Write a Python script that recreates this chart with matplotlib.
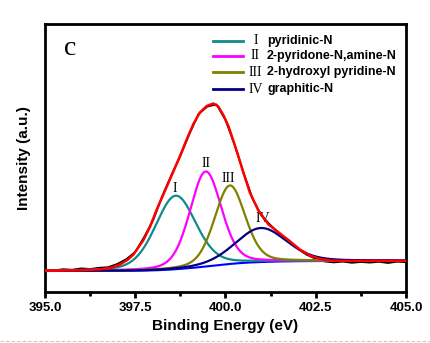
import numpy as np
import matplotlib
matplotlib.use("Agg")
import matplotlib.pyplot as plt
from matplotlib.lines import Line2D

plt.rcParams['font.family'] = ['Liberation Sans', 'DejaVu Sans']

# Energia de ligacao (eV), passo de 0.25
energia = np.arange(395.0, 405.01, 0.25)

# Espectro medido (pontos pretos)
medido = [22.0, 21.5, 22.8, 22.2, 23.6, 23.0, 24.2, 24.8, 28.0, 32.8,
          40.0, 55.2, 72.2, 96.0, 116.8, 136.2, 158.0, 177.8, 185.5, 187.6,
          172.0, 147.5, 119.2, 93.4, 76.2, 66.8, 58.0, 51.8, 43.2, 37.2,
          33.2, 30.5, 29.6, 30.4, 29.2, 30.0, 29.4, 30.2, 29.0, 30.3, 29.8]

# Envelope ajustado (linha vermelha)
ajuste_e = [395.0, 395.5, 396.0, 396.5, 396.8, 397.08, 397.3, 397.45, 397.72, 397.91,
            398.09, 398.32, 398.55, 398.74, 398.93, 399.11, 399.29, 399.48, 399.66, 399.80,
            399.94, 400.08, 400.22, 400.35, 400.49, 400.68, 400.91, 401.19, 401.51, 401.79,
            402.06, 402.34, 402.62, 402.89, 403.2, 404.0, 405.0]
ajuste = [21.2, 21.4, 21.7, 22.6, 24.0, 27.5, 32.5, 37.5, 51.5, 65.3,
          82.0, 101.0, 120.0, 136.0, 153.0, 168.0, 179.5, 186.0, 188.5, 185.5,
          177.0, 166.0, 151.0, 136.5, 120.0, 99.0, 81.5, 67.5, 58.5, 50.5,
          42.5, 36.5, 33.0, 31.5, 31.1, 31.1, 31.1]

# Componentes do ajuste
nomes = ["pyridinic-N", "2-pyridone-N,amine-N", "2-hydroxyl pyridine-N", "graphitic-N"]
romanos = ["I", "II", "III", "IV"]
centros = [398.62, 399.45, 400.12, 400.98]
alturas = [73.5, 95.0, 78.5, 34.0]
fwhm = [1.33, 1.03, 1.00, 1.67]
cores = ["#138a8a", "#ff00ff", "#808000", "#000080"]

# Fundo (Shirley) entre os niveis baixo e alto
fundo_baixo = 21.0
fundo_alto = 31.1

# posicao dos rotulos romanos sobre os picos
rotulo_x = [398.60, 399.45, 400.09, 401.02]
rotulo_y = [104, 129, 114, 73]

grade = np.linspace(395, 405, 801)


def gl(x, c, h, w, mix=0.25):
    s = w / 2.3548
    g = np.exp(-(x - c) ** 2 / (2 * s ** 2))
    l = 1 / (1 + ((x - c) / (w / 2)) ** 2)
    return h * ((1 - mix) * g + mix * l)


comps = [gl(grade, c, h, w) for c, h, w in zip(centros, alturas, fwhm)]
soma = np.sum(comps, axis=0)
acum = np.cumsum(soma)
fundo = fundo_baixo + (fundo_alto - fundo_baixo) * acum / acum[-1]

fig = plt.figure(figsize=(4.31, 3.43), dpi=100)
ax = fig.add_axes([0.1044, 0.1487, 0.8376, 0.7813])

ax.plot(energia, medido, color="black", lw=1.3, zorder=2)
ax.plot(grade, fundo, color="#0000ff", lw=1.5, zorder=3)
for comp, cor in zip(comps, cores):
    ax.plot(grade, comp + fundo, color=cor, lw=1.6, zorder=4)
ax.plot(ajuste_e, ajuste, color="#ff0000", lw=1.8, zorder=5, solid_joinstyle="round")

for r, x, y in zip(romanos, rotulo_x, rotulo_y):
    ax.text(x, y, r, family="Liberation Serif", fontsize=10, ha="center", va="center")

ax.text(0.069, 0.907, "c", transform=ax.transAxes, family="Liberation Serif",
        fontsize=20, ha="center", va="center")

# legenda manual
linhas_y = [0.938, 0.881, 0.820, 0.757]
for r, nome, cor, yy in zip(romanos, nomes, cores, linhas_y):
    ax.add_line(Line2D([0.465, 0.548], [yy, yy], transform=ax.transAxes, color=cor, lw=2))
    ax.text(0.583, yy, r, transform=ax.transAxes, family="Liberation Serif",
            fontsize=10, ha="center", va="center")
    ax.text(0.615, yy, nome, transform=ax.transAxes, fontsize=9,
            fontweight="bold", ha="left", va="center")

ax.set_xlim(395, 405)
ax.set_ylim(0, 268)
ax.set_xticks([395, 397.5, 400, 402.5, 405])
ax.set_xticks([396.25, 398.75, 401.25, 403.75], minor=True)
ax.set_xticklabels(["395.0", "397.5", "400.0", "402.5", "405.0"], fontweight="bold", fontsize=9.5)
ax.set_yticks([])
ax.tick_params(axis="x", which="major", length=4.5, width=2, direction="out", pad=3)
ax.tick_params(axis="x", which="minor", length=3, width=2, direction="out")
for s in ax.spines.values():
    s.set_linewidth(2)

ax.set_xlabel("Binding Energy (eV)", fontsize=11, fontweight="bold", labelpad=3)
ax.set_ylabel("Intensity (a.u.)", fontsize=11, fontweight="bold", labelpad=10)

fig.add_artist(Line2D([0, 1], [0.006, 0.006], color="#c8c8c8", lw=0.8, ls=(0, (3, 2))))

plt.savefig("out.png", dpi=100)
